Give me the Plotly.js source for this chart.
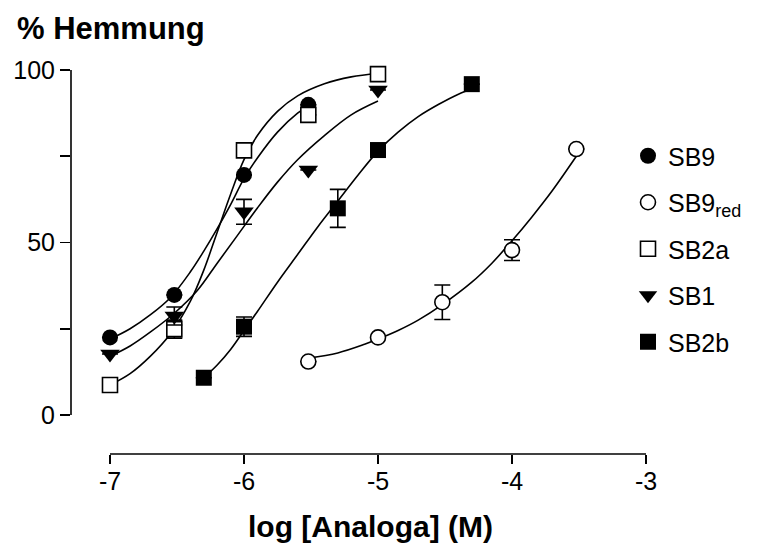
<!DOCTYPE html>
<html>
<head>
<meta charset="utf-8">
<script src="https://cdn.plot.ly/plotly-3.0.1.min.js"></script>
<style>html,body{margin:0;padding:0;background:#fff;}#chart{width:784px;height:550px;}</style>
</head>
<body>
<div id="chart"></div>
<script>
// ---- data (log molar concentration vs % inhibition) ----
var seriesNames = ['SB9', 'SB9<sub><span style="font-size:18px">red</span></sub>', 'SB2a', 'SB1', 'SB2b'];

var sb9X = [-7, -6.52, -6, -5.52];
var sb9Y = [22.5, 34.8, 69.6, 89.9];
var sb9Err = [0, 0, 0, 0];

var sb9redX = [-5.52, -5, -4.52, -4, -3.52];
var sb9redY = [15.5, 22.5, 32.7, 47.8, 77.1];
var sb9redErr = [0, 0, 5, 3, 0];

var sb2aX = [-7, -6.52, -6, -5.52, -5];
var sb2aY = [8.7, 24.9, 76.7, 87, 98.8];
var sb2aErr = [0, 2.6, 0, 0, 0];

var sb1X = [-7, -6.52, -6, -5.52, -5];
var sb1Y = [17.7, 28.7, 58.9, 71, 94.2];
var sb1Err = [0, 2.6, 3.6, 0, 0];

var sb2bX = [-6.3, -6, -5.3, -5, -4.3];
var sb2bY = [10.8, 25.6, 59.9, 76.8, 95.9];
var sb2bErr = [0, 2.8, 5.5, 0, 0];

// fitted curves
var sb9CurveX = [-7, -6.85, -6.7, -6.55, -6.4, -6.3, -6.2, -6.1, -6, -5.9, -5.75, -5.6, -5.52];
var sb9CurveY = [22, 25, 29, 34, 41.5, 47.5, 54, 61, 68.5, 74.5, 82, 87.5, 89.5];

var sb2aCurveX = [-7, -6.85, -6.7, -6.55, -6.4, -6.3, -6.2, -6.1, -6, -5.9, -5.75, -5.6, -5.4, -5.2, -5];
var sb2aCurveY = [8.7, 12, 17, 23.5, 33, 42, 53, 64, 74, 81, 88, 92.5, 96, 98, 99];

var sb1CurveX = [-7, -6.85, -6.7, -6.52, -6.35, -6.2, -6.05, -5.9, -5.75, -5.6, -5.4, -5.2, -5];
var sb1CurveY = [17, 20, 24, 29.5, 36, 44, 52, 60, 67.5, 74, 81, 87, 91];

var sb2bCurveX = [-6.3, -6.2, -6.1, -6, -5.9, -5.75, -5.6, -5.45, -5.3, -5.15, -5, -4.85, -4.7, -4.55, -4.4, -4.3];
var sb2bCurveY = [10.8, 14.5, 19, 24.5, 30, 38.5, 46.5, 54.5, 62, 69.5, 76.5, 82, 86.5, 90, 93, 94.5];

var sb9redCurveX = [-5.52, -5.3, -5.1, -5, -4.85, -4.7, -4.52, -4.3, -4.15, -4, -3.85, -3.7, -3.52];
var sb9redCurveY = [16.5, 18, 20.5, 22, 24.5, 27.5, 32, 38.5, 44, 50.5, 57.5, 65, 75];

var xTickVals = [-7, -6, -5, -4, -3];
var xTickText = ['-7', '-6', '-5', '-4', '-3'];
var yTickVals = [0, 50, 100];
var yTickText = ['0', '50', '100'];
var yMinorStep = 25;

// ---- build ----
var FONT = 'Liberation Sans, Arial, Helvetica, sans-serif';
function curve(x, y) {
  return {x: x, y: y, type: 'scatter', mode: 'lines', showlegend: false, hoverinfo: 'skip',
    line: {color: '#000', width: 1.6, shape: 'spline', smoothing: 1}, cliponaxis: false};
}
function pts(name, x, y, err, symbol, filled, size, group) {
  return {x: x, y: y, name: name, type: 'scatter', mode: 'markers', cliponaxis: false,
    legendgroup: group,
    error_y: {type: 'data', array: err, visible: true, color: '#000', thickness: 1.6, width: 8},
    marker: {symbol: symbol, size: size, color: filled ? '#000' : '#fff',
      line: {color: '#000', width: filled ? 0 : 1.6}}};
}

var data = [
  curve(sb9CurveX, sb9CurveY),
  curve(sb9redCurveX, sb9redCurveY),
  curve(sb2aCurveX, sb2aCurveY),
  curve(sb1CurveX, sb1CurveY),
  curve(sb2bCurveX, sb2bCurveY),
  pts(seriesNames[0], sb9X, sb9Y, sb9Err, 'circle', true, 16, 'a'),
  pts(seriesNames[1], sb9redX, sb9redY, sb9redErr, 'circle', false, 15, 'b'),
  pts(seriesNames[2], sb2aX, sb2aY, sb2aErr, 'square', false, 15, 'c'),
  pts(seriesNames[3], sb1X, sb1Y, sb1Err, 'triangle-down', true, 17, 'd'),
  pts(seriesNames[4], sb2bX, sb2bY, sb2bErr, 'square', true, 16, 'e')
];

var layout = {
  width: 784, height: 550,
  margin: {l: 71, r: 138, t: 70, b: 96},
  paper_bgcolor: '#fff', plot_bgcolor: '#fff',
  font: {family: FONT, color: '#000', size: 25},
  showlegend: true,
  title: {text: '<b>% Hemmung</b>', font: {family: FONT, size: 31, color: '#000'},
    x: 17 / 784, xanchor: 'left', xref: 'container', y: 1 - 17 / 550, yanchor: 'top'},
  xaxis: {range: [-7.291, -3], showline: false, zeroline: false, showgrid: false,
    tickvals: xTickVals, ticktext: xTickText, ticks: 'outside', ticklen: 9, tickwidth: 1.6,
    tickcolor: '#000', tickfont: {size: 25, family: FONT}, ticklabelstandoff: -4},
  yaxis: {range: [-11.3, 100], showline: false, zeroline: false, showgrid: false,
    tickvals: yTickVals, ticktext: yTickText, ticks: 'outside', ticklen: 10, tickwidth: 1.6,
    tickcolor: '#000', tickfont: {size: 25, family: FONT},
    minor: {tick0: 0, dtick: yMinorStep, ticks: 'outside', ticklen: 10, tickwidth: 1.6, tickcolor: '#000', showgrid: false}},
  shapes: [
    {type: 'line', xref: 'paper', x0: 0, x1: 0, yref: 'y', y0: 0, y1: 100, line: {color: '#000', width: 1.6}},
    {type: 'line', xref: 'x', x0: -7, x1: -3, yref: 'paper', y0: 0, y1: 0, line: {color: '#000', width: 1.6}}
  ],
  annotations: [
    {text: '<b>log [Analoga] (M)</b>', xref: 'paper', yref: 'paper', x: (370 - 71) / 575, y: 0,
      yshift: -54, xanchor: 'center', yanchor: 'top', showarrow: false,
      font: {family: FONT, size: 30, color: '#000'}}
  ],
  legend: {x: (628 - 71) / 575, xanchor: 'left', y: (454 - 133) / 384, yanchor: 'top',
    font: {family: FONT, size: 25, color: '#000'}, traceorder: 'grouped', tracegroupgap: 11,
    bgcolor: 'rgba(0,0,0,0)', itemwidth: 30}
};

Plotly.newPlot('chart', data, layout, {displayModeBar: false, staticPlot: true});
</script>
</body>
</html>
